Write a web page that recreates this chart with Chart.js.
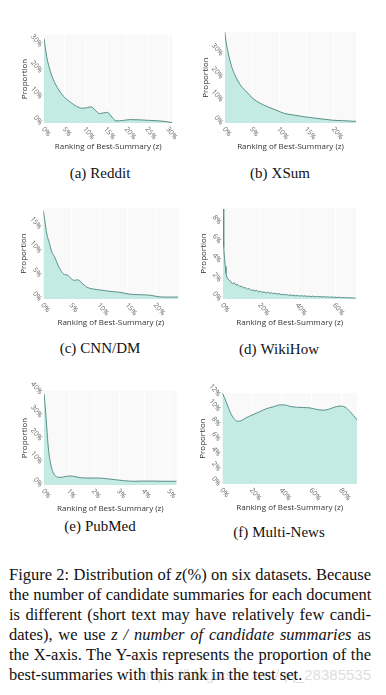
<!DOCTYPE html>
<html>
<head>
<meta charset="utf-8">
<script src="https://cdn.jsdelivr.net/npm/chart.js@4.4.0/dist/chart.umd.min.js"></script>
<style>
  html, body { margin: 0; padding: 0; background: #fff; }
  body { width: 386px; height: 695px; position: relative; overflow: hidden; }
  canvas { position: absolute; }
  .sub { position: absolute; font-family: "Liberation Serif", serif; font-size: 15px; color: #111;
         transform: translate(-50%, -50%); white-space: nowrap; }
  .sub span { margin-left: 4px; }
  .cap { position: absolute; left: 9px; top: 565px; width: 362px; font-family: "Liberation Serif", serif;
         font-size: 16.5px; color: #111; z-index: 2; }
  .cap div { height: 20px; line-height: 20px; white-space: nowrap; text-align: justify; text-align-last: justify; }
  .cap div.last { text-align-last: left; }
  .wm { position: absolute; right: 15px; top: 665px; line-height: 20px; font-family: "Liberation Sans", sans-serif;
        font-size: 15px; color: #dedede; z-index: 1; white-space: nowrap; }
</style>
</head>
<body>
<div class="sub" style="left:100px; top:173px">(a)<span>Reddit</span></div>
<div class="sub" style="left:280px; top:173px">(b)<span>XSum</span></div>
<div class="sub" style="left:100px; top:348px">(c)<span>CNN/DM</span></div>
<div class="sub" style="left:279px; top:349px">(d)<span>WikiHow</span></div>
<div class="sub" style="left:100px; top:526px">(e)<span>PubMed</span></div>
<div class="sub" style="left:279px; top:532px">(f)<span>Multi-News</span></div>

<div class="wm">https://blog.csdn.net/qq_28385535</div>
<div class="cap">
  <div>Figure 2: Distribution of <i>z</i>(%) on six datasets. Because</div>
  <div>the number of candidate summaries for each document</div>
  <div>is different (short text may have relatively few candi-</div>
  <div>dates), we use <i>z / number of candidate summaries</i> as</div>
  <div>the X-axis. The Y-axis represents the proportion of the</div>
  <div class="last">best-summaries with this rank in the test set.</div>
</div>

<script>
// z = rank of best summary / number of candidates (%), p = proportion (%)
const redditZ = [0, 0.65, 1.45, 2.3, 3.5, 4.7, 6.3, 7.9, 9.1, 10.5, 11.3, 12.3, 13.4, 14.4, 15.3, 16.4, 17.4, 19.2, 20.8, 23.2, 25.6, 28, 29.7, 31];
const redditP = [32.5, 25.5, 20.3, 16.5, 12.9, 10.3, 8.1, 6.4, 5.7, 5.9, 6.2, 5.1, 3.6, 3.9, 4.1, 2.3, 0.8, 1.0, 1.3, 1.2, 1.0, 0.8, 0.5, 0.1];

const xsumZ = [0, 0.3, 0.8, 1.4, 2.1, 3.0, 4.0, 5.2, 6.4, 7.9, 9.5, 11, 12.5, 14.3, 16.2, 18, 19.8, 21.6, 24.1];
const xsumP = [39.5, 34.5, 28.7, 23.6, 19.7, 16.1, 13.5, 10.6, 8.7, 7.0, 5.5, 4.1, 3.5, 2.8, 2.2, 1.7, 1.2, 1.0, 0.7];

const cnnZ = [0, 0.3, 0.6, 1.1, 1.5, 2.0, 2.6, 3.2, 3.8, 4.3, 4.9, 5.5, 6.1, 6.9, 7.7, 8.8, 10, 11.8, 13.6, 15.4, 17.1, 18.9, 20.1, 21.3, 24];
const cnnP = [18.5, 16.1, 13.7, 11.6, 9.9, 8.8, 7.1, 5.8, 5.1, 5.0, 4.3, 3.9, 4.0, 3.3, 2.5, 2.1, 1.9, 1.6, 1.4, 1.0, 0.9, 0.8, 0.55, 0.4, 0.4];

const wikiZ = [0, 0.4, 0.8, 1.2, 1.6, 2, 3, 4, 5, 6, 7, 8, 9, 10, 11, 12, 13, 14, 15, 16, 17, 18, 19, 20,
  21, 22, 23, 24, 25, 26, 27, 28, 29, 30, 31, 32, 33, 34, 35, 36, 37, 38, 39, 40, 41, 42, 43, 44, 45,
  46, 47, 48, 49, 50, 51, 52, 53, 54, 55, 56, 57, 58, 59, 60, 61, 62, 63, 64, 65, 66, 67, 68, 69, 70, 71];
const wikiP = [9.4, 5.4, 4.3, 3.4, 2.7, 2.3, 2.0, 1.85, 1.6, 1.7, 1.45, 1.5, 1.3, 1.35, 1.15, 1.2, 1.0, 1.1, 0.9, 0.95, 0.85, 0.9, 0.75, 0.8,
  0.7, 0.75, 0.62, 0.7, 0.6, 0.65, 0.55, 0.6, 0.5, 0.58, 0.45, 0.5, 0.42, 0.48, 0.38, 0.44, 0.36, 0.4, 0.33, 0.38, 0.3, 0.35, 0.3, 0.33, 0.27,
  0.3, 0.25, 0.3, 0.24, 0.27, 0.22, 0.26, 0.2, 0.25, 0.2, 0.23, 0.18, 0.22, 0.17, 0.2, 0.15, 0.19, 0.14, 0.16, 0.12, 0.15, 0.11, 0.13, 0.1, 0.11, 0.07];

const pubZ = [0, 0.05, 0.11, 0.17, 0.24, 0.31, 0.4, 0.5, 0.64, 0.84, 1.04, 1.24, 1.5, 1.84, 2.17, 2.5, 2.84, 3.17, 3.57, 3.97, 4.37, 4.77, 5.3];
const pubP = [39.5, 33.6, 25, 16.4, 10.7, 7.1, 4.7, 3.6, 3.3, 3.6, 3.9, 3.6, 3.1, 3.0, 3.0, 2.7, 2.3, 1.9, 1.6, 1.7, 1.7, 1.6, 1.6];

const multiZ = [0, 1.6, 3.8, 6.1, 8.3, 10.6, 12.8, 16.2, 20.7, 25.2, 29.7, 34.2, 38.7, 42, 45.4, 49.9, 54.4, 58.9, 63.4, 67.9, 71.2, 74.6, 79.1, 82.5, 85.8, 88.1, 90.5];
const multiP = [12.2, 11.5, 10.4, 9.3, 8.65, 8.4, 8.5, 8.9, 9.3, 9.7, 10.1, 10.35, 10.6, 10.6, 10.4, 10.3, 10.25, 10.2, 10.0, 9.9, 10.0, 10.25, 10.45, 10.3, 9.7, 9.2, 8.6];

// axis ranges / tick steps
const xMaxes = [31, 24.1, 24, 71.4, 5.3, 90.5];
const xSteps = [5, 5, 5, 20, 1, 20];
const yMaxes = [33.8, 39.5, 19, 9.5, 40.6, 12.2];
const ySteps = [10, 10, 5, 2, 10, 2];

const panels = [
  { z: redditZ, p: redditP, col: 0, box: [44, 35, 172.3, 122.7], smooth: true },
  { z: xsumZ, p: xsumP, col: 1, box: [224.7, 31.7, 356.3, 122.7], smooth: true },
  { z: cnnZ, p: cnnP, col: 0, box: [43.3, 208.3, 178.3, 299], smooth: true },
  { z: wikiZ, p: wikiP, col: 1, box: [223, 208.3, 356.3, 299], smooth: false },
  { z: pubZ, p: pubP, col: 0, box: [44, 390.7, 176.7, 485], smooth: true },
  { z: multiZ, p: multiP, col: 1, box: [222.3, 393.3, 357, 484.3], smooth: true }
];

const plotBg = {
  id: 'plotBg',
  beforeDraw(chart) {
    const { ctx, chartArea: a } = chart;
    ctx.save();
    ctx.fillStyle = '#f9f9f9';
    ctx.fillRect(a.left, a.top, a.right - a.left, a.bottom - a.top);
    ctx.restore();
  }
};

// slanted tick labels, rotated clockwise like the original figure
const slantTicks = {
  id: 'slantTicks',
  afterDraw(chart) {
    const { ctx, chartArea: a, scales: { x, y } } = chart;
    const ang = 50 * Math.PI / 180;
    ctx.save();
    ctx.font = '7px "Open Sans"';
    ctx.fillStyle = '#666';
    ctx.textBaseline = 'middle';
    x.ticks.forEach(t => {
      ctx.save();
      ctx.translate(x.getPixelForValue(t.value) - 1, a.bottom + 5);
      ctx.rotate(ang);
      ctx.textAlign = 'left';
      ctx.fillText(Math.round(t.value) + '%', 0, 0);
      ctx.restore();
    });
    y.ticks.forEach(t => {
      ctx.save();
      ctx.translate(a.left - 3, y.getPixelForValue(t.value) + 1);
      ctx.rotate(ang);
      ctx.textAlign = 'right';
      ctx.fillText(Math.round(t.value) + '%', 0, 0);
      ctx.restore();
    });
    ctx.restore();
  }
};

const titleFont = { family: 'Open Sans', size: 8 };

panels.forEach((cfg, i) => {
  const cx = cfg.col * 193;
  const cy = cfg.box[1] - 15;
  const w = 193;
  const h = Math.round(cfg.box[3] + 30 - cy);
  const canvas = document.createElement('canvas');
  canvas.width = w;
  canvas.height = h;
  canvas.style.left = cx + 'px';
  canvas.style.top = cy + 'px';
  canvas.style.width = w + 'px';
  canvas.style.height = h + 'px';
  document.body.appendChild(canvas);

  new Chart(canvas, {
    type: 'line',
    data: {
      datasets: [{
        data: cfg.z.map((z, k) => ({ x: z, y: cfg.p[k] })),
        borderColor: '#5b8f88',
        borderWidth: 1,
        backgroundColor: '#c4ebe3',
        fill: 'origin',
        pointRadius: 0,
        tension: cfg.smooth ? 0.4 : 0,
        cubicInterpolationMode: cfg.smooth ? 'monotone' : 'default'
      }]
    },
    options: {
      responsive: false,
      animation: false,
      events: [],
      layout: { padding: { top: 15, left: cfg.box[0] - cx - 26, right: cx + 193 - cfg.box[2], bottom: 0 } },
      plugins: { legend: { display: false }, tooltip: { enabled: false } },
      scales: {
        x: {
          type: 'linear', min: 0, max: xMaxes[i],
          ticks: { display: false, stepSize: xSteps[i], includeBounds: false },
          grid: { color: '#ffffff', drawTicks: false },
          border: { display: false },
          title: { display: true, text: 'Ranking of Best-Summary (z)', font: titleFont, color: '#333', padding: { top: 0, bottom: 1 } },
          afterFit: s => { s.height = 30; }
        },
        y: {
          min: 0, max: yMaxes[i],
          ticks: { display: false, stepSize: ySteps[i], includeBounds: false },
          grid: { display: false },
          border: { display: false },
          title: { display: true, text: 'Proportion', font: titleFont, color: '#333', padding: { top: 2, bottom: 0 } },
          afterFit: s => { s.width = 26; }
        }
      }
    },
    plugins: [plotBg, slantTicks]
  });
});
</script>
</body>
</html>
